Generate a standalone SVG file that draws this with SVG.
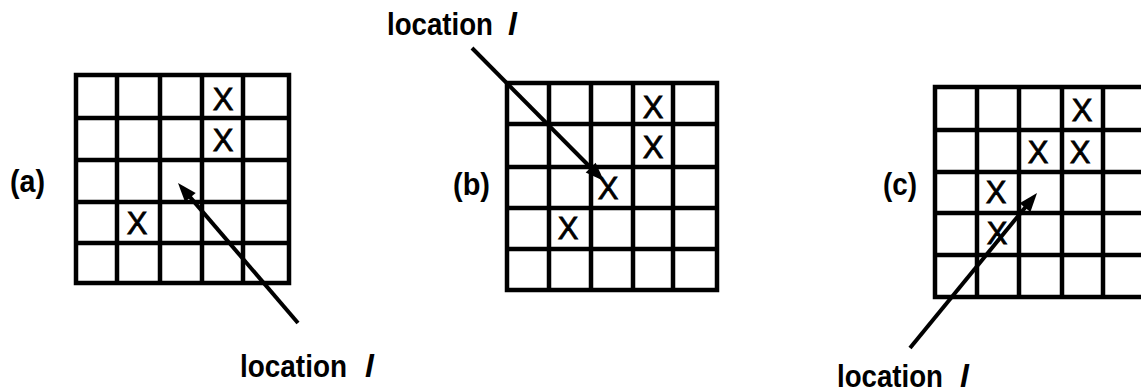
<svg xmlns="http://www.w3.org/2000/svg" width="1141" height="392" viewBox="0 0 1141 392">
<style>
.grid{fill:none;stroke:#000;stroke-width:4.5;stroke-linecap:square}
.x{font-family:"Liberation Sans",Arial,sans-serif;font-size:31px;fill:#000;stroke:#000;stroke-width:0.8;text-anchor:middle}
.lbl{font-family:"Liberation Sans",Arial,sans-serif;font-size:32px;font-weight:bold;fill:#000}
.conn{fill:none;stroke:#000;stroke-width:4}
</style>
<defs>
<marker id="ah" markerUnits="userSpaceOnUse" markerWidth="30" markerHeight="20" refX="0" refY="0" orient="auto" overflow="visible">
<path d="M10,0 L-9,-7 L-9,7 Z" fill="#000"/>
</marker>
</defs>
<rect width="1141" height="392" fill="#fff"/>
<g id="grid-a">
<path class="grid" d="M76,75 H289 V283 H76 Z M117,75 V283 M160,75 V283 M202,75 V283 M243,75 V283 M76,118 H289 M76,160 H289 M76,202 H289 M76,243 H289"/>
<text class="x" x="223" y="110">X</text>
<text class="x" x="223" y="151">X</text>
<text class="x" x="137" y="234">X</text>
<text class="lbl" x="10" y="192"><tspan textLength="35" lengthAdjust="spacingAndGlyphs">(a)</tspan></text>
</g>
<g id="grid-b">
<path class="grid" d="M507,83 H717 V290 H507 Z M549,83 V290 M591,83 V290 M633,83 V290 M673,83 V290 M507,124 H717 M507,167 H717 M507,208 H717 M507,249 H717"/>
<text class="x" x="653" y="118">X</text>
<text class="x" x="653" y="158">X</text>
<text class="x" x="608" y="199">X</text>
<text class="x" x="568" y="239">X</text>
<text class="lbl" x="453" y="195"><tspan textLength="37" lengthAdjust="spacingAndGlyphs">(b)</tspan></text>
</g>
<g id="grid-c">
<path class="grid" d="M935,87 H1145 V297 H935 Z M977,87 V297 M1019,87 V297 M1062,87 V297 M1103,87 V297 M935,130 H1145 M935,172 H1145 M935,213 H1145 M935,255 H1145"/>
<text class="x" x="1082" y="121">X</text>
<text class="x" x="1038" y="163">X</text>
<text class="x" x="1080" y="163">X</text>
<text class="x" x="996" y="203">X</text>
<text class="x" x="997" y="244">X</text>
<text class="lbl" x="883" y="195"><tspan textLength="34" lengthAdjust="spacingAndGlyphs">(c)</tspan></text>
</g>
<g id="label-top">
<text class="lbl" x="387" y="35"><tspan textLength="106" lengthAdjust="spacingAndGlyphs">location</tspan> <tspan x="508" font-style="italic">l</tspan></text>
</g>
<g id="label-a">
<text class="lbl" x="240" y="377"><tspan textLength="107" lengthAdjust="spacingAndGlyphs">location</tspan> <tspan x="365" font-style="italic">l</tspan></text>
</g>
<g id="label-c">
<text class="lbl" x="837" y="387"><tspan textLength="106" lengthAdjust="spacingAndGlyphs">location</tspan> <tspan x="960" font-style="italic">l</tspan></text>
</g>
<g id="connectors">
<line class="conn" x1="298" y1="323" x2="184.5" y2="190.6" marker-end="url(#ah)"/>
<line class="conn" x1="472" y1="48" x2="597" y2="174" marker-end="url(#ah)"/>
<line class="conn" x1="910" y1="348" x2="1030.7" y2="200.7" marker-end="url(#ah)"/>
</g>
</svg>
